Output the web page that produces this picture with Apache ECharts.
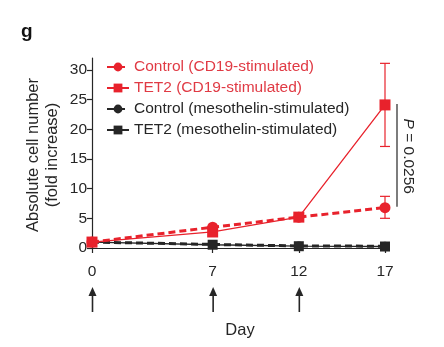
<!DOCTYPE html>
<html>
<head>
<meta charset="utf-8">
<script src="https://cdn.jsdelivr.net/npm/echarts@6/dist/echarts.min.js"></script>
<style>
  html, body { margin: 0; padding: 0; background: #fff; }
  #chart { width: 444px; height: 347px; }
</style>
</head>
<body>
<div id="chart"></div>
<script>
// Days of measurement and stimulation
var days = [0, 7, 12, 17];
var stimDays = [0, 7, 12];

// Fold increase in absolute cell number
var controlCD19 = [1.0, 3.5, 5.2, 6.8];
var tet2CD19 = [1.0, 2.7, 5.2, 24.1];
var controlMeso = [1.0, 0.6, 0.35, 0.3];
var tet2Meso = [1.0, 0.55, 0.3, 0.25];

// Error bars (low, high) at day 17
var controlCD19Err = [[17, 5.0, 8.7]];
var tet2CD19Err = [[17, 17.1, 31.1]];

// Tick labels
var yTicks = [0, 5, 10, 15, 20, 25, 30];
var xTicks = [0, 7, 12, 17];

var pText = '0.0256';

var RED = '#e8222c';
var RED_TEXT = '#e03a44';
var BLACK = '#262626';
var FONT = 'Liberation Sans, Arial, Helvetica, sans-serif';

function pairs(vals) {
  return days.map(function (d, i) { return [d, vals[i]]; });
}

function errorBarSeries(data, color) {
  return {
    type: 'custom',
    silent: true,
    z: 1,
    clip: false,
    data: data,
    renderItem: function (params, api) {
      var lo = api.coord([api.value(0), api.value(1)]);
      var hi = api.coord([api.value(0), api.value(2)]);
      var w = 5;
      var style = { stroke: color, lineWidth: 1.2 };
      return {
        type: 'group',
        children: [
          { type: 'line', shape: { x1: lo[0], y1: lo[1], x2: hi[0], y2: hi[1] }, style: style },
          { type: 'line', shape: { x1: lo[0] - w, y1: lo[1], x2: lo[0] + w, y2: lo[1] }, style: style },
          { type: 'line', shape: { x1: hi[0] - w, y1: hi[1], x2: hi[0] + w, y2: hi[1] }, style: style }
        ]
      };
    }
  };
}

var chart = echarts.init(document.getElementById('chart'), null, { renderer: 'canvas' });

var option = {
  backgroundColor: '#fff',
  animation: false,
  textStyle: { fontFamily: FONT },
  grid: { left: 92, right: 59, top: 58, bottom: 99, containLabel: false },
  legend: {
    orient: 'vertical',
    left: 101,
    top: 54,
    itemGap: 5,
    itemWidth: 22,
    itemHeight: 11,
    textStyle: { fontSize: 15.5, fontFamily: FONT, color: BLACK, padding: [0, 0, 0, 0] },
    data: [
      { name: 'Control (CD19-stimulated)', textStyle: { color: RED_TEXT } },
      { name: 'TET2 (CD19-stimulated)', textStyle: { color: RED_TEXT } },
      { name: 'Control (mesothelin-stimulated)' },
      { name: 'TET2 (mesothelin-stimulated)' }
    ]
  },
  xAxis: {
    type: 'value',
    min: 0,
    max: 17,
    offset: 7,
    splitLine: { show: false },
    axisLine: { lineStyle: { color: BLACK, width: 1.2 } },
    axisTick: { customValues: xTicks, length: 5, lineStyle: { color: BLACK, width: 1.2 } },
    axisLabel: { customValues: xTicks, color: BLACK, fontSize: 15.5, fontFamily: FONT, margin: 9 }
  },
  yAxis: {
    type: 'value',
    min: 0,
    max: 32,
    splitLine: { show: false },
    axisLine: { show: true, lineStyle: { color: BLACK, width: 1.2 } },
    axisTick: { show: true, customValues: yTicks, length: 5, lineStyle: { color: BLACK, width: 1.2 } },
    axisLabel: { customValues: yTicks, color: BLACK, fontSize: 15.5, fontFamily: FONT, margin: 5 }
  },
  series: [
    {
      name: 'TET2 (mesothelin-stimulated)',
      type: 'line',
      data: pairs(tet2Meso),
      symbol: 'rect',
      symbolSize: 10,
      z: 3,
      itemStyle: { color: BLACK },
      lineStyle: { color: BLACK, width: 1.3 }
    },
    {
      name: 'Control (mesothelin-stimulated)',
      type: 'line',
      data: pairs(controlMeso),
      symbol: 'circle',
      symbolSize: 9,
      z: 3,
      itemStyle: { color: BLACK },
      lineStyle: { color: BLACK, width: 3, type: [7, 4] }
    },
    {
      name: 'TET2 (CD19-stimulated)',
      type: 'line',
      data: pairs(tet2CD19),
      symbol: 'rect',
      symbolSize: 11,
      z: 4,
      itemStyle: { color: RED },
      lineStyle: { color: RED, width: 1.3 }
    },
    {
      name: 'Control (CD19-stimulated)',
      type: 'line',
      data: pairs(controlCD19),
      symbol: 'circle',
      symbolSize: 11,
      z: 4,
      itemStyle: { color: RED },
      lineStyle: { color: RED, width: 3, type: [7, 4] }
    },
    errorBarSeries(tet2CD19Err, RED),
    errorBarSeries(controlCD19Err, RED),
    // Significance bracket between the two CD19-stimulated groups at day 17
    {
      type: 'custom',
      silent: true,
      clip: false,
      data: [[days[3], tet2CD19[3], controlCD19[3]]],
      renderItem: function (params, api) {
        var a = api.coord([api.value(0), api.value(1)]);
        var b = api.coord([api.value(0), api.value(2)]);
        var x = a[0] + 12;
        return {
          type: 'group',
          children: [
            { type: 'line', shape: { x1: x, y1: a[1] - 1, x2: x, y2: b[1] - 1 }, style: { stroke: BLACK, lineWidth: 1.2 } },
            {
              type: 'text',
              x: x + 11,
              y: (a[1] + b[1]) / 2,
              rotation: -Math.PI / 2,
              style: {
                text: '{i|P} = ' + pText,
                align: 'center',
                verticalAlign: 'middle',
                fill: BLACK,
                font: '15.5px ' + FONT,
                rich: { i: { fontStyle: 'italic', fontSize: 15.5, fontFamily: FONT, fill: BLACK } }
              }
            }
          ]
        };
      }
    },
    // Stimulation arrows under the day axis
    {
      type: 'custom',
      silent: true,
      clip: false,
      data: stimDays.map(function (d) { return [d, 0]; }),
      renderItem: function (params, api) {
        var p = api.coord([api.value(0), 0]);
        var x = p[0] + 0.5;
        var top = p[1] + 39;
        return {
          type: 'group',
          children: [
            { type: 'line', shape: { x1: x, y1: top + 6, x2: x, y2: top + 25 }, style: { stroke: BLACK, lineWidth: 1.6 } },
            { type: 'polygon', shape: { points: [[x, top], [x - 4, top + 9], [x + 4, top + 9]] }, style: { fill: BLACK } }
          ]
        };
      }
    }
  ],
  graphic: [
    {
      type: 'text', left: 21, top: 22,
      style: { text: 'g', font: 'bold 19px ' + FONT, fill: '#111' }
    },
    {
      type: 'text', x: 43, y: 155, rotation: Math.PI / 2,
      style: {
        text: 'Absolute cell number\n(fold increase)',
        align: 'center', verticalAlign: 'middle',
        font: '16.5px ' + FONT, fill: BLACK, lineHeight: 19
      }
    },
    {
      type: 'text', x: 240, y: 330,
      style: { text: 'Day', align: 'center', verticalAlign: 'middle', font: '16.5px ' + FONT, fill: BLACK }
    }
  ]
};

chart.setOption(option);
</script>
</body>
</html>
